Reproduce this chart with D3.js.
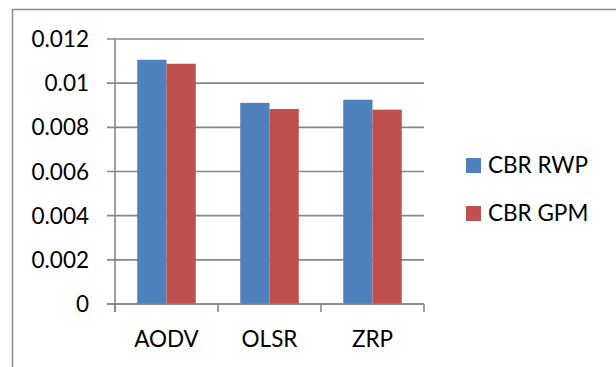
<!DOCTYPE html>
<html>
<head>
<meta charset="utf-8">
<script src="https://cdn.jsdelivr.net/npm/d3@7"></script>
<style>
  html, body { margin: 0; padding: 0; background: #fff; }
  svg { display: block; font-family: Lato, "Open Sans", sans-serif; }
</style>
</head>
<body>
<svg id="chart" width="616" height="367"></svg>
<script>
// Routing protocols on the x axis, two CBR traffic series
const categories = ["AODV", "OLSR", "ZRP"];
const seriesNames = ["CBR RWP", "CBR GPM"];
const cbrRwp = [0.01106, 0.00911, 0.00925];
const cbrGpm = [0.01088, 0.00883, 0.00880];
const yTicks = [0, 0.002, 0.004, 0.006, 0.008, 0.01, 0.012];
const yTickLabels = ["0", "0.002", "0.004", "0.006", "0.008", "0.01", "0.012"];
const seriesColors = ["#4F81BD", "#C0504D"];

const svg = d3.select("#chart");
const gridColor = "#878787";
const fontSize = 22.5;

const plot = { left: 115, right: 424, top: 39, bottom: 304 };

// chart frame
svg.append("path")
  .attr("d", `M12.5,367 V9.5 H616`)
  .attr("fill", "none")
  .attr("stroke", "#8c8c8c")
  .attr("stroke-width", 1.5);

const x = d3.scaleBand()
  .domain(categories)
  .range([plot.left, plot.right])
  .padding(0);

const xInner = d3.scaleBand()
  .domain(seriesNames)
  .range([0, x.bandwidth()])
  .paddingInner(0)
  .paddingOuter(0.76);

const y = d3.scaleLinear()
  .domain([0, 0.012])
  .range([plot.bottom, plot.top]);

// horizontal gridlines, with their tick marks to the left of the axis
svg.append("g")
  .selectAll("line")
  .data(yTicks)
  .join("line")
  .attr("x1", plot.left - 8)
  .attr("x2", plot.right)
  .attr("y1", d => y(d))
  .attr("y2", d => y(d))
  .attr("stroke", gridColor)
  .attr("stroke-width", 1.6);

// y tick labels
svg.append("g")
  .selectAll("text")
  .data(yTicks)
  .join("text")
  .attr("x", 89)
  .attr("y", d => y(d))
  .attr("dy", 8)
  .attr("text-anchor", "end")
  .attr("font-size", fontSize)
  .attr("fill", "#000")
  .text((d, i) => yTickLabels[i]);

// bars
const rows = categories.map((c, i) => ({ cat: c, values: [cbrRwp[i], cbrGpm[i]] }));
const groups = svg.append("g")
  .selectAll("g")
  .data(rows)
  .join("g")
  .attr("transform", d => `translate(${x(d.cat)},0)`);

groups.selectAll("rect")
  .data(d => d.values.map((v, j) => ({ name: seriesNames[j], value: v, j })))
  .join("rect")
  .attr("x", d => xInner(d.name))
  .attr("width", xInner.bandwidth())
  .attr("y", d => y(d.value))
  .attr("height", d => y(0) - y(d.value))
  .attr("fill", d => seriesColors[d.j]);

// y axis line
svg.append("line")
  .attr("x1", plot.left).attr("x2", plot.left)
  .attr("y1", plot.top).attr("y2", plot.bottom + 8)
  .attr("stroke", gridColor)
  .attr("stroke-width", 1.6);

// x axis line and category boundary ticks
svg.append("line")
  .attr("x1", plot.left - 8).attr("x2", plot.right)
  .attr("y1", plot.bottom).attr("y2", plot.bottom)
  .attr("stroke", gridColor)
  .attr("stroke-width", 1.6);

const boundaries = categories.map(c => x(c)).concat([x(categories[categories.length - 1]) + x.bandwidth()]);
svg.append("g")
  .selectAll("line")
  .data(boundaries)
  .join("line")
  .attr("x1", d => d).attr("x2", d => d)
  .attr("y1", plot.bottom).attr("y2", plot.bottom + 8)
  .attr("stroke", gridColor)
  .attr("stroke-width", 1.6);

// category labels
svg.append("g")
  .selectAll("text")
  .data(categories)
  .join("text")
  .attr("x", d => x(d) + x.bandwidth() / 2)
  .attr("y", 346.5)
  .attr("text-anchor", "middle")
  .attr("font-size", fontSize)
  .attr("fill", "#000")
  .text(d => d);

// legend
const legend = svg.append("g")
  .selectAll("g")
  .data(seriesNames)
  .join("g")
  .attr("transform", (d, i) => `translate(466,${158 + i * 48})`);

legend.append("rect")
  .attr("width", 15)
  .attr("height", 15)
  .attr("fill", (d, i) => seriesColors[i]);

legend.append("text")
  .attr("x", 22)
  .attr("y", 15.3)
  .attr("font-size", fontSize)
  .attr("fill", "#000")
  .text(d => d);
</script>
</body>
</html>
